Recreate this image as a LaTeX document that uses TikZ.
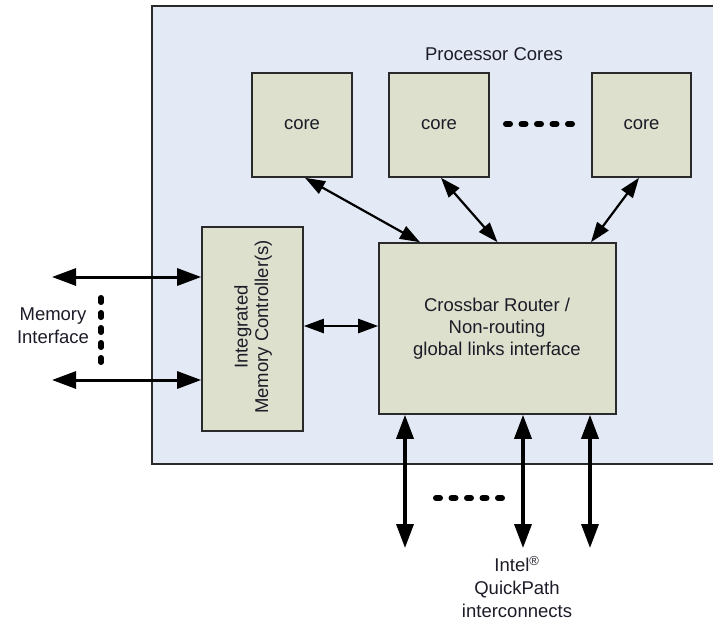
\documentclass[tikz,border=0pt]{standalone}
\usepackage{fontspec}
\setmainfont{Liberation Sans}
\usetikzlibrary{arrows.meta}
\definecolor{outerfill}{HTML}{E4EAF5}
\definecolor{boxfill}{HTML}{DCE0CC}
\definecolor{edge}{HTML}{2A2A2A}
\definecolor{txt}{HTML}{1C1C28}
\begin{document}
\begin{tikzpicture}[x=1pt,y=-1pt,
  lbl/.style={font=\fontsize{18.5}{22}\selectfont, text=txt, align=center, inner sep=0pt},
  blk/.style={draw=edge, line width=1.6pt, fill=boxfill, inner sep=0pt, lbl},
  bigarrow/.style={line width=3pt, draw=black, {Triangle[length=24pt,width=17pt]}-{Triangle[length=24pt,width=17pt]}},
  midarrow/.style={line width=2.2pt, draw=black, {Triangle[length=20pt,width=14pt]}-{Triangle[length=20pt,width=14pt]}},
  dotline/.style={line width=6pt, line cap=round, dash pattern=on 4pt off 11.5pt, draw=black}
]
\useasboundingbox (0,0) rectangle (713,625);
% outer chip area
\fill[outerfill] (152,6) rectangle (713,464);
\draw[edge, line width=1.5pt] (713,6) -- (152,6) -- (152,464) -- (713,464);

\node[lbl] (pc) at (494,54) {Processor Cores};

\node[blk, minimum width=100pt, minimum height=104pt] (core1) at (302,125) {core};
\node[blk, minimum width=100pt, minimum height=104pt] (core2) at (439,125) {core};
\node[blk, minimum width=99pt, minimum height=104pt] (core3) at (641.5,125) {core};

\node[blk, minimum width=237pt, minimum height=171pt] (cb) at (497.5,328.5) {};
\node[lbl] (cbtext) at (497,328.5) {Crossbar Router /\\Non-routing\\global links interface};

\node[blk, minimum width=101pt, minimum height=204pt] (imc) at (252.5,329) {};
\node[lbl, rotate=90, font=\fontsize{18.5}{20.5}\selectfont] (imctext) at (253,327) {Integrated\\Memory Controller(s)};

% dotted ellipses
\coordinate (d1a) at (506,124);
\coordinate (d1b) at (575,124);
\draw[dotline] (d1a) -- (d1b);
\coordinate (d2a) at (436,498);
\coordinate (d2b) at (505,498);
\draw[dotline] (d2a) -- (d2b);
\coordinate (d3a) at (101,297.75);
\coordinate (d3b) at (101,363);
\draw[dotline, line width=5.5pt, dash pattern=on 4.5pt off 10.5pt] (d3a) -- (d3b);

% core <-> crossbar
\draw[midarrow] ([xshift=3pt]core1.south) -- ([xshift=-77.5pt]cb.north);
\draw[midarrow] ([xshift=2pt]core2.south) -- (cb.north);
\draw[midarrow] ([xshift=-2.5pt]core3.south) -- ([xshift=93.5pt]cb.north);

% imc <-> crossbar
\draw[midarrow, line width=2.5pt] (imc.east |- 0,326) -- (cb.west |- 0,326);

% memory interface
\coordinate (m1) at (52,277);
\coordinate (m2) at (52,380);
\draw[bigarrow] (m1) -- (m1 -| imc.west);
\draw[bigarrow] (m2) -- (m2 -| imc.west);
\node[lbl, font=\fontsize{18.5}{23}\selectfont] (memif) at (53,326) {Memory\\Interface};

% QPI links
\coordinate (q1) at (405,548);
\coordinate (q2) at (523,548);
\coordinate (q3) at (590,548);
\draw[bigarrow, line width=3.5pt] (q1 |- cb.south) -- (q1);
\draw[bigarrow, line width=3.5pt] (q2 |- cb.south) -- (q2);
\draw[bigarrow, line width=3.5pt] (q3 |- cb.south) -- (q3);
\node[lbl, font=\fontsize{18.5}{23}\selectfont, anchor=north] (qpi) at (517,556) {Intel\textsuperscript{\textregistered}\\QuickPath\\interconnects};
\end{tikzpicture}
\end{document}
